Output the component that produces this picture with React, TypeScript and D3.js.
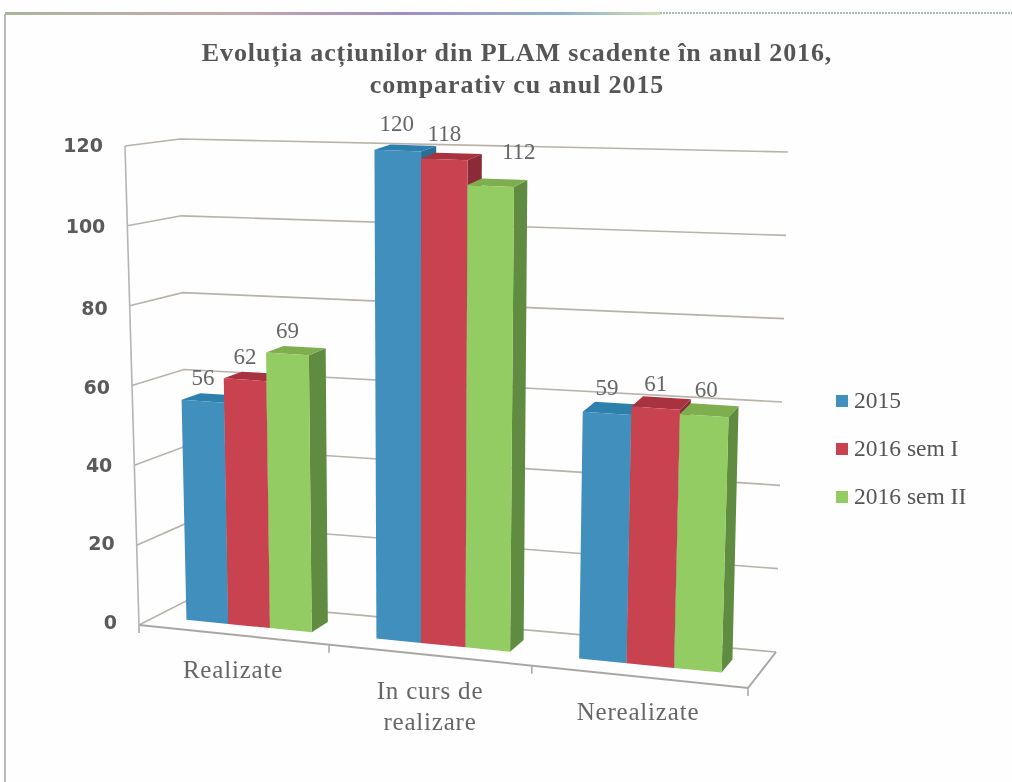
import React from "react";
import * as d3 from "d3";

const categories = ["Realizate", "In curs de realizare", "Nerealizate"];
const seriesNames = ["2015", "2016 sem I", "2016 sem II"];
const values2015 = [56, 120, 59];
const valuesSem1 = [62, 118, 61];
const valuesSem2 = [69, 112, 60];
const yTicks = [0, 20, 40, 60, 80, 100, 120];
const titleLines = ["Evoluția acțiunilor din PLAM scadente în anul 2016,", "comparativ cu anul 2015"];

const W = 1012, H = 782;
const seriesValues = [values2015, valuesSem1, valuesSem2];
const palette = [
  { front: "#3f8fbd", side: "#2b6f94", top: "#2f80ac" },
  { front: "#c8434f", side: "#8c2c38", top: "#a8303c" },
  { front: "#93cc62", side: "#5f8c40", top: "#7fae50" },
];
type P = [number, number];
// Corners of the 3D box: [front-left, back-left, back-right, front-right], at value 0 and 120
const floor: P[] = [[139, 625], [188, 600], [776, 652], [748, 688]];
const ceil: P[] = [[125, 146], [180, 139], [788, 152], [765, 178]];
const vT = d3.scaleLinear().domain([0, 120]).range([0, 1]);
const uT = d3.scaleLinear().domain([0, 1 / 3, 2 / 3, 1]).range([0, 0.312, 0.645, 1]);
// the photographed chart's bars stand a little taller toward the middle and right
const barStretch = d3.scaleLinear().domain([0, 0.5, 1]).range([0.99, 1.01, 1.012]);
const tickNudge = d3.scaleLinear().domain([0, 80, 120]).range([-3, 3, -1]);
const mix = (a: P, b: P, t: number): P => [a[0] + (b[0] - a[0]) * t, a[1] + (b[1] - a[1]) * t];
function project(u: number, v: number, d: number): P {
  const t = uT(u);
  const c = (i: number) => mix(floor[i], ceil[i], vT(v));
  return mix(mix(c(0), c(3), t), mix(c(1), c(2), t), d);
}
const xBand = d3.scaleBand<number>().domain([0, 1, 2]).range([0, 1]).paddingInner(1 / 3).paddingOuter(1 / 6);
const xInner = d3.scaleBand<number>().domain([0, 1, 2]).range([0, xBand.bandwidth()]);
const D0 = 0.33, D1 = 0.7;
const poly = d3.line<P>().curve(d3.curveLinearClosed);
const path = d3.line<P>();

const serif = "'Liberation Serif', serif";
const labelShift: Record<string, P> = {
  "1-0": [-1, -4], "1-1": [0, -2], "1-2": [28, -11],
  "2-0": [0, -2], "2-1": [0, -1], "2-2": [2, -3],
};

export default function App() {
  return (
    <svg width={W} height={H} viewBox={`0 0 ${W} ${H}`} style={{ position: "absolute", left: 0, top: 0, background: "#fefefe" }}>
      <defs>
        <linearGradient id="topLine" x1="0" x2="1" y1="0" y2="0">
          <stop offset="0" stopColor="#a9b59a" />
          <stop offset="0.35" stopColor="#c9a7ad" />
          <stop offset="0.6" stopColor="#a08fc0" />
          <stop offset="0.85" stopColor="#8fb0cc" />
          <stop offset="1" stopColor="#cfe0b0" />
        </linearGradient>
        <filter id="scan" x="-2%" y="-2%" width="104%" height="104%">
          <feGaussianBlur stdDeviation="0.45" />
        </filter>
      </defs>
      <g filter="url(#scan)">
        <rect x={5} y={12} width={655} height={3} fill="url(#topLine)" />
        <line x1={660} x2={1012} y1={13} y2={13} stroke="#8fa596" strokeWidth={1.5} strokeDasharray="2 1" />
        <line x1={5} x2={5} y1={14} y2={782} stroke="#bcbcbc" strokeWidth={2} />

        {titleLines.map((t, i) => (
          <text key={t} x={517} y={61 + i * 32} textAnchor="middle" fontFamily={serif} fontWeight="bold" fontSize={26} letterSpacing={0.9} fill="#555">{t}</text>
        ))}

        {/* walls */}
        {yTicks.map((v) => {
          const pts = [project(0, v, 0), project(0, v, 1), project(1, v, 1)];
          return <path key={v} d={path(pts)!} fill="none" stroke="#b8b2aa" strokeWidth={1.6} />;
        })}
        {/* floor and axis */}
        <path d={path([project(0, 0, 0), project(1, 0, 0), project(1, 0, 1)])!} fill="none" stroke="#aaa6a2" strokeWidth={2} />
        <path d={path([project(0, 120, 0), project(0, 0, 0)])!} fill="none" stroke="#b4b4b4" strokeWidth={1.6} />
        {[0, 1 / 3, 2 / 3, 1].map((u) => {
          const p = project(u, 0, 0);
          return <line key={u} x1={p[0]} x2={p[0]} y1={p[1]} y2={p[1] + 8} stroke="#aaa" strokeWidth={1.6} />;
        })}
        {yTicks.map((v) => {
          const p = project(0, v, 0);
          return (
            <text key={v} x={p[0] - 22} y={p[1] + tickNudge(v)} dy="0.35em" textAnchor="end" fontFamily="'DejaVu Sans', sans-serif" fontWeight="bold" fontSize={19} fill="#5a5a5a">{v}</text>
          );
        })}

        {/* bars */}
        {categories.map((c, ci) =>
          seriesNames.map((s, si) => {
            const u0 = xBand(ci)! + xInner(si)!;
            const u1 = u0 + xInner.bandwidth();
            const v = seriesValues[si][ci] * barStretch((u0 + u1) / 2);
            const col = palette[si];
            const front: P[] = [project(u0, 0, D0), project(u1, 0, D0), project(u1, v, D0), project(u0, v, D0)];
            const side: P[] = [project(u1, 0, D0), project(u1, 0, D1), project(u1, v, D1), project(u1, v, D0)];
            const top: P[] = [project(u0, v, D0), project(u1, v, D0), project(u1, v, D1), project(u0, v, D1)];
            return (
              <g key={s + c}>
                <path d={poly(side)!} fill={col.side} />
                <path d={poly(top)!} fill={col.top} />
                <path d={poly(front)!} fill={col.front} />
              </g>
            );
          })
        )}
        {/* value labels */}
        {categories.map((c, ci) =>
          seriesNames.map((s, si) => {
            const u = xBand(ci)! + xInner(si)! + xInner.bandwidth() / 2;
            const val = seriesValues[si][ci];
            const p = project(u, val * barStretch(u), D0);
            const sh = labelShift[`${ci}-${si}`] ?? [0, 0];
            return (
              <text key={s + c} x={p[0] + sh[0]} y={p[1] - 16 + sh[1]} textAnchor="middle" fontFamily={serif} fontSize={23} fill="#666">{val}</text>
            );
          })
        )}

        {/* category labels */}
        <text x={233} y={678} textAnchor="middle" fontFamily={serif} fontSize={25} letterSpacing={0.8} fill="#666">{categories[0]}</text>
        <text x={430} y={699} textAnchor="middle" fontFamily={serif} fontSize={25} letterSpacing={0.8} fill="#666">In curs de</text>
        <text x={430} y={730} textAnchor="middle" fontFamily={serif} fontSize={25} letterSpacing={0.8} fill="#666">realizare</text>
        <text x={638} y={720} textAnchor="middle" fontFamily={serif} fontSize={25} letterSpacing={0.8} fill="#666">{categories[2]}</text>

        {/* legend */}
        {seriesNames.map((s, i) => (
          <g key={s} transform={`translate(836,${395 + i * 48})`}>
            <rect width={12} height={12} fill={palette[i].front} />
            <text x={18} y={13} fontFamily={serif} fontSize={23.5} fill="#555">{s}</text>
          </g>
        ))}
      </g>
    </svg>
  );
}
